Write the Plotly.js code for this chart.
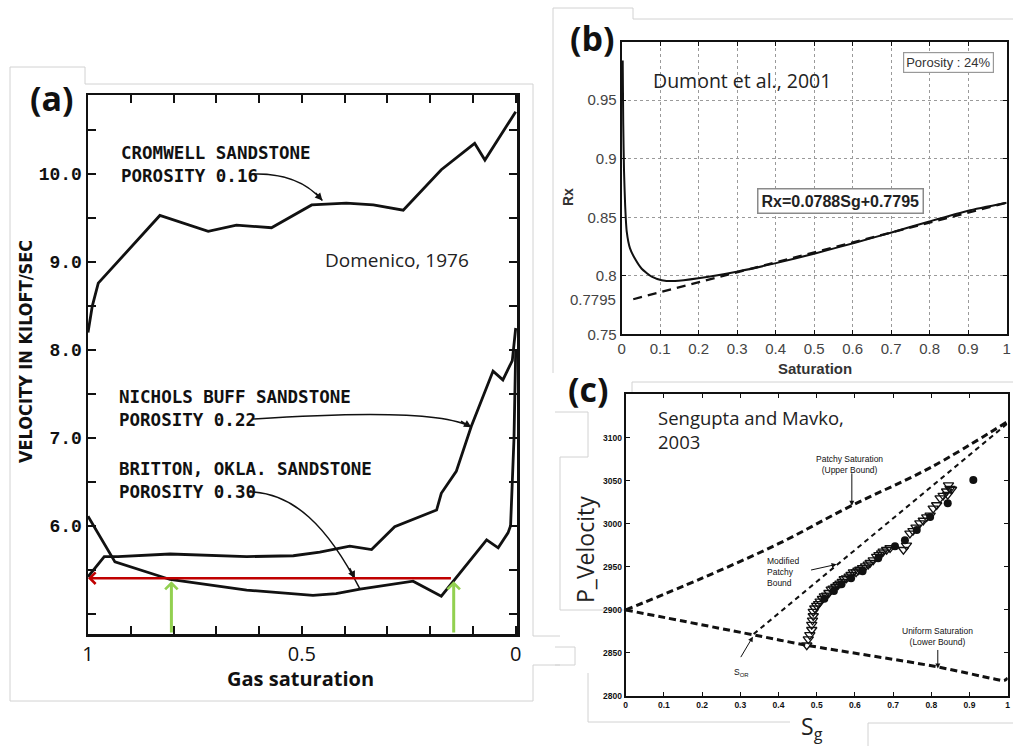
<!DOCTYPE html>
<html><head><meta charset="utf-8">
<script src="https://cdn.plot.ly/plotly-3.0.1.min.js"></script>
<style>html,body{margin:0;padding:0;background:#fff}#chart{width:1013px;height:746px}</style>
</head><body><div id="chart"></div><script>
// ---------- Panel (a): Domenico, 1976 ----------
const cromwellSg = [1.0, 0.99, 0.976, 0.832, 0.719, 0.653, 0.571, 0.477, 0.396, 0.333, 0.263, 0.174, 0.096, 0.072, 0.0];
const cromwellV  = [8.2, 8.5, 8.76, 9.53, 9.35, 9.42, 9.39, 9.65, 9.67, 9.65, 9.59, 10.05, 10.35, 10.16, 10.71];
const nicholsSg = [1.0, 0.975, 0.962, 0.93, 0.808, 0.629, 0.52, 0.458, 0.388, 0.337, 0.283, 0.185, 0.174, 0.139, 0.104, 0.053, 0.030, 0.008, 0.0];
const nicholsV  = [5.42, 5.58, 5.65, 5.65, 5.68, 5.65, 5.66, 5.70, 5.77, 5.73, 5.99, 6.18, 6.37, 6.62, 7.13, 7.76, 7.66, 7.88, 8.25];
const brittonSg = [1.0, 0.937, 0.808, 0.629, 0.474, 0.42, 0.364, 0.24, 0.174, 0.143, 0.068, 0.041, 0.018, 0.012, 0.004, 0.0];
const brittonV  = [6.11, 5.59, 5.39, 5.27, 5.21, 5.23, 5.28, 5.37, 5.20, 5.39, 5.84, 5.75, 5.92, 6.0, 7.0, 8.0];
const aXTicks = [0, 0.1, 0.2, 0.3, 0.4, 0.5, 0.6, 0.7, 0.8, 0.9, 1.0];
const aXLabels = ['0', '', '', '', '', '0.5', '', '', '', '', '1'];
const aYTicks = [5, 5.5, 6, 6.5, 7, 7.5, 8, 8.5, 9, 9.5, 10, 10.5];
const aYLabels = ['', '', '6.0', '', '7.0', '', '8.0', '', '9.0', '', '10.0', ''];
const redLevel = 5.405, redEndSg = 0.148;
const greenSg = [0.805, 0.145], greenTip = 5.37;

// ---------- Panel (b): Dumont et al., 2001 ----------
const rxSg  = [0.0026, 0.004, 0.006, 0.009, 0.013, 0.0216, 0.0346, 0.052, 0.078, 0.104, 0.1385, 0.199, 0.2987, 0.398, 0.502, 0.606, 0.701, 0.797, 0.900, 1.0];
const rxVal = [0.984, 0.93, 0.89, 0.86, 0.838, 0.8234, 0.8145, 0.806, 0.7992, 0.7962, 0.7955, 0.7978, 0.8035, 0.8106, 0.8191, 0.8282, 0.837, 0.8462, 0.8556, 0.8624];
const fitSg = [0.03, 1.0];
const fitRx = [0.7800, 0.8625];
const bXTicks = [0, 0.1, 0.2, 0.3, 0.4, 0.5, 0.6, 0.7, 0.8, 0.9, 1];
const bXLabels = ['0', '0.1', '0.2', '0.3', '0.4', '0.5', '0.6', '0.7', '0.8', '0.9', '1'];
const bYTicks = [0.75, 0.8, 0.85, 0.9, 0.95];
const bYLabels = ['0.75', '0.8', '0.85', '0.9', '0.95'];

// ---------- Panel (c): Sengupta and Mavko, 2003 ----------
const upperSg = [0, 0.2, 0.4, 0.59, 0.8, 1.0];
const upperV  = [2900, 2937, 2977, 3021, 3066, 3119];
const modSg = [0.335, 1.0];
const modV  = [2872, 3117];
const lowerSg = [0, 0.335, 0.474, 0.814, 0.963, 0.99, 1.0];
const lowerV  = [2900, 2871, 2859, 2834, 2820, 2818, 2821];
const triSg = [0.474, 0.478, 0.482, 0.487, 0.487, 0.489, 0.491, 0.491, 0.495, 0.500, 0.505, 0.509, 0.515, 0.520, 0.526, 0.532, 0.538, 0.543, 0.550, 0.556, 0.561, 0.567, 0.572, 0.578, 0.585, 0.590, 0.596, 0.603, 0.608, 0.613, 0.620, 0.628, 0.635, 0.640, 0.648, 0.657, 0.663, 0.670, 0.674, 0.683, 0.692, 0.727, 0.735, 0.744, 0.752, 0.760, 0.770, 0.779, 0.788, 0.797, 0.805, 0.814, 0.823, 0.831, 0.840, 0.845, 0.849, 0.853, 0.843];
const triV  = [2859, 2866, 2871, 2877, 2883, 2888, 2893, 2898, 2902, 2905, 2907, 2910, 2913, 2916, 2917, 2920, 2924, 2925, 2927, 2929, 2931, 2933, 2936, 2937, 2939, 2941, 2944, 2944, 2946, 2947, 2949, 2951, 2953, 2955, 2958, 2962, 2964, 2966, 2968, 2970, 2972, 2970, 2975, 2989, 2992, 2996, 3001, 3004, 3008, 3010, 3018, 3022, 3030, 3033, 3038, 3045, 3041, 3040, 3034];
const circSg = [0.52, 0.545, 0.565, 0.59, 0.62, 0.661, 0.705, 0.731, 0.762, 0.797, 0.843, 0.910];
const circV  = [2913, 2922, 2930, 2937, 2945, 2960, 2974, 2981, 2993, 3008, 3024, 3051];
const cXTicks = [0, 0.1, 0.2, 0.3, 0.4, 0.5, 0.6, 0.7, 0.8, 0.9, 1];
const cXLabels = ['0', '0.1', '0.2', '0.3', '0.4', '0.5', '0.6', '0.7', '0.8', '0.9', '1'];
const cYTicks = [2800, 2850, 2900, 2950, 3000, 3050, 3100];
const cYLabels = ['2800', '2850', '2900', '2950', '3000', '3050', '3100'];

// ---------- geometry helpers (pixel -> paper) ----------
const W = 1013, H = 746;
const PX = v => v / W, PY = v => 1 - v / H;

const black = '#111';
const traces = [
  {x: cromwellSg, y: cromwellV, xaxis: 'x', yaxis: 'y', mode: 'lines', line: {color: black, width: 2.8}, hoverinfo: 'skip'},
  {x: nicholsSg, y: nicholsV, xaxis: 'x', yaxis: 'y', mode: 'lines', line: {color: black, width: 2.8}, hoverinfo: 'skip'},
  {x: brittonSg, y: brittonV, xaxis: 'x', yaxis: 'y', mode: 'lines', line: {color: black, width: 2.8}, hoverinfo: 'skip'},
  {x: rxSg, y: rxVal, xaxis: 'x2', yaxis: 'y2', mode: 'lines', line: {color: black, width: 2, shape: 'spline', smoothing: 0.5}, hoverinfo: 'skip'},
  {x: fitSg, y: fitRx, xaxis: 'x2', yaxis: 'y2', mode: 'lines', line: {color: black, width: 2.2, dash: '9px,6px'}, hoverinfo: 'skip'},
  {x: upperSg, y: upperV, xaxis: 'x3', yaxis: 'y3', mode: 'lines', line: {color: black, width: 3, dash: '7px,4px', shape: 'spline'}, hoverinfo: 'skip'},
  {x: modSg, y: modV, xaxis: 'x3', yaxis: 'y3', mode: 'lines', line: {color: black, width: 2, dash: '5px,4px'}, hoverinfo: 'skip'},
  {x: lowerSg, y: lowerV, xaxis: 'x3', yaxis: 'y3', mode: 'lines', line: {color: black, width: 3, dash: '7px,4px', shape: 'spline'}, hoverinfo: 'skip'},
  {x: triSg, y: triV, xaxis: 'x3', yaxis: 'y3', mode: 'markers', marker: {symbol: 'triangle-down-open', size: 9, color: black, line: {width: 1.3, color: black}}, hoverinfo: 'skip'},
  {x: circSg, y: circV, xaxis: 'x3', yaxis: 'y3', mode: 'markers', marker: {symbol: 'circle', size: 8, color: black}, hoverinfo: 'skip'}
];

const axisA = {showline: true, linecolor: black, linewidth: 2.5, mirror: 'ticks', ticks: 'inside', ticklen: 8, tickwidth: 2, tickcolor: black, showgrid: false, zeroline: false, fixedrange: true};
const axisB = {showline: true, linecolor: black, linewidth: 2, mirror: 'ticks', ticks: 'inside', ticklen: 4, tickwidth: 1, tickcolor: black, showgrid: true, gridcolor: '#9a9a9a', griddash: 'dot', gridwidth: 1, zeroline: false, fixedrange: true};
const axisC = {showline: true, linecolor: black, linewidth: 2, mirror: 'ticks', ticks: 'inside', ticklen: 4, tickwidth: 1, tickcolor: black, showgrid: false, zeroline: false, fixedrange: true};

const layout = {
  width: W, height: H, margin: {l: 0, r: 0, t: 0, b: 0},
  paper_bgcolor: '#fff', plot_bgcolor: 'rgba(0,0,0,0)', showlegend: false,
  xaxis: Object.assign({}, axisA, {domain: [PX(88), PX(517)], range: [1.0, -0.003], anchor: 'y', tickmode: 'array', tickvals: aXTicks, ticktext: aXLabels, tickfont: {family: 'Open Sans', size: 20, color: black}}),
  yaxis: Object.assign({}, axisA, {domain: [PY(634), PY(95)], range: [4.77, 10.9], anchor: 'x', tickmode: 'array', tickvals: aYTicks, ticktext: aYLabels, tickfont: {family: 'Liberation Mono', size: 18, color: black, weight: 'bold'}}),
  xaxis2: Object.assign({}, axisB, {domain: [PX(621.7), PX(1006.7)], range: [0, 1], anchor: 'y2', tickmode: 'array', tickvals: bXTicks, ticktext: bXLabels, tickfont: {family: 'Liberation Sans', size: 15, color: '#444'}}),
  yaxis2: Object.assign({}, axisB, {domain: [PY(334.3), PY(41.7)], range: [0.75, 1.0], anchor: 'x2', tickmode: 'array', tickvals: bYTicks, ticktext: bYLabels, tickfont: {family: 'Liberation Sans', size: 15, color: '#444'}}),
  xaxis3: Object.assign({}, axisC, {domain: [PX(625.7), PX(1007.7)], range: [0, 1], anchor: 'y3', tickmode: 'array', tickvals: cXTicks, ticktext: cXLabels, tickfont: {family: 'Liberation Sans', size: 8.5, color: black, weight: 'bold'}}),
  yaxis3: Object.assign({}, axisC, {domain: [PY(696), PY(394)], range: [2800, 3151], anchor: 'x3', tickmode: 'array', tickvals: cYTicks, ticktext: cYLabels, tickfont: {family: 'Liberation Sans', size: 8.5, color: black, weight: 'bold'}})
};

const mono = {family: 'DejaVu Sans Mono', size: 17.5, color: black, weight: 'bold'};
const tiny = {family: 'Liberation Sans', size: 8.5, color: black};
const ann = [];
function txt(x, y, text, font, opts) { ann.push(Object.assign({xref: 'paper', yref: 'paper', x: PX(x), y: PY(y), text: text, font: font, showarrow: false, xanchor: 'left', yanchor: 'middle'}, opts || {})); }

// Panel (a) texts
txt(28, 98, '<b>(a)</b>', {family: 'Open Sans', size: 34, color: black});
txt(25, 352, 'VELOCITY IN KILOFT/SEC', {family: 'DejaVu Sans Condensed', size: 18, color: black, weight: 'bold'}, {xanchor: 'center', textangle: -90});
txt(119, 164, 'CROMWELL SANDSTONE<br>POROSITY 0.16', mono, {align: 'left'});
txt(117, 408, 'NICHOLS BUFF SANDSTONE<br>POROSITY 0.22', mono, {align: 'left'});
txt(117, 480, 'BRITTON, OKLA. SANDSTONE<br>POROSITY 0.30', mono, {align: 'left'});
txt(323, 260, 'Domenico, 1976', {family: 'Open Sans', size: 19, color: '#222'});
txt(300, 678, '<b>Gas saturation</b>', {family: 'Open Sans', size: 20, color: black}, {xanchor: 'center'});

// Panel (b) texts
txt(568, 38, '<b>(b)</b>', {family: 'Open Sans', size: 34, color: black});
txt(651, 81, 'Dumont et al., 2001', {family: 'Open Sans', size: 19.5, color: '#222'});
txt(568, 197, '<b>Rx</b>', {family: 'Liberation Sans', size: 14, color: '#333'}, {xanchor: 'center', textangle: -90});
txt(815, 368, '<b>Saturation</b>', {family: 'Liberation Sans', size: 15, color: '#333'}, {xanchor: 'center'});
ann.push({xref: 'paper', yref: 'y2', x: PX(618), y: 0.7795, text: '0.7795', showarrow: false, xanchor: 'right', yanchor: 'middle', font: {family: 'Liberation Sans', size: 15, color: '#444'}});
txt(840, 201, '<b>Rx=0.0788Sg+0.7795</b>', {family: 'Liberation Sans', size: 16, color: '#222'}, {xanchor: 'center', bordercolor: '#8a8a8a', borderwidth: 1.5, borderpad: 3, bgcolor: '#fff'});
txt(948, 62, 'Porosity : 24%', {family: 'Liberation Sans', size: 13, color: '#333'}, {xanchor: 'center', bordercolor: '#999', borderwidth: 1.2, borderpad: 2, bgcolor: '#fff'});

// Panel (c) texts
txt(566, 389, '<b>(c)</b>', {family: 'Open Sans', size: 34, color: black});
txt(656, 429, 'Sengupta and Mavko,<br>2003', {family: 'Open Sans', size: 18.5, color: '#222'}, {align: 'left'});
txt(585, 550, 'P_Velocity', {family: 'Open Sans', size: 23, color: '#222'}, {xanchor: 'center', textangle: -90});
txt(812, 727, 'S<sub>g</sub>', {family: 'Open Sans', size: 23, color: '#222'}, {xanchor: 'center'});
txt(849, 464, 'Patchy Saturation<br>(Upper Bound)', tiny, {xanchor: 'center'});
txt(783, 572, 'Modified<br>Patchy<br>Bound', tiny, {xanchor: 'center', align: 'left'});
txt(937, 636, 'Uniform Saturation<br>(Lower Bound)', tiny, {xanchor: 'center'});
txt(741, 672, 'S<sub>OR</sub>', tiny, {xanchor: 'center'});

// arrows
function arr(xr, yr, x, y, ax, ay, w, head, color, size) {
  ann.push({xref: xr, yref: yr, x: x, y: y, ax: ax, ay: ay, text: '', showarrow: true, arrowhead: head, arrowwidth: w, arrowsize: size || 1, arrowcolor: color || black, standoff: 0});
}
arr('x3', 'y3', 0.592, 3021, 0, -34, 1, 2);
arr('x3', 'y3', 0.552, 2953, -27, 6, 1, 2);
arr('x3', 'y3', 0.817, 2832, 0, -20, 1, 2);
arr('x3', 'y3', 0.333, 2869, -13, 22, 1, 2);

// arrowheads at the ends of curved leaders in (a)
arr('x', 'y', 0.452, 9.70, -8, -9, 1.5, 2);
arr('x', 'y', 0.1035, 7.12, -12, -7, 1.5, 2);
arr('x', 'y', 0.376, 5.40, -6, -12, 1.5, 2);

// red and green arrows in (a)
ann.push({xref: 'x', yref: 'y', x: 1.0, y: redLevel, axref: 'x', ayref: 'y', ax: redEndSg, ay: redLevel, text: '', showarrow: true, arrowhead: 4, arrowwidth: 2.5, arrowsize: 0.9, arrowcolor: '#C00000', standoff: 0});
greenSg.forEach(g => ann.push({xref: 'x', yref: 'y', x: g, y: greenTip, axref: 'x', ayref: 'y', ax: g, ay: 4.77, text: '', showarrow: true, arrowhead: 4, arrowwidth: 3, arrowsize: 0.8, arrowcolor: '#92D050', standoff: 0}));

layout.annotations = ann;

// curved leader lines (a)
const shapes = [
  {type: 'path', xref: 'x', yref: 'y', path: 'M 0.621,10.0 C 0.55,10.02 0.49,9.92 0.452,9.70', line: {color: black, width: 1.5}},
  {type: 'path', xref: 'x', yref: 'y', path: 'M 0.614,7.215 C 0.35,7.30 0.16,7.29 0.1035,7.12', line: {color: black, width: 1.5}},
  {type: 'path', xref: 'x', yref: 'y', path: 'M 0.626,6.387 C 0.52,6.38 0.44,6.0 0.364,5.28', line: {color: black, width: 1.5}}
];
// light grey borders of pasted pictures (decoration)
const deco = [
  [10,67,85,67],[85,67,85,84],[85,84,533,84],[533,84,533,636],[10,67,10,701],[10,701,533,701],[533,665,533,701],[533,636,560,636],[533,665,560,665],
  [553,8,633,8],[633,8,633,19],[633,19,1013,19],[553,8,553,373],
  [632,382,1013,382],[632,382,632,393],
  [555,412,588,412],[588,412,588,457],[560,457,588,457],[560,457,560,610],[560,610,626,610],
  [555,647,575,647],[575,647,575,665],[555,665,575,665],
  [588,673,588,722],[588,722,790,722],[868,723,868,746],[868,723,1013,723]
];
deco.forEach(d => shapes.push({type: 'line', xref: 'paper', yref: 'paper', x0: PX(d[0]), y0: PY(d[1]), x1: PX(d[2]), y1: PY(d[3]), line: {color: '#d2d2d2', width: 1}, layer: 'below'}));
layout.shapes = shapes;

Plotly.newPlot('chart', traces, layout, {displayModeBar: false, staticPlot: true});
</script></body></html>
